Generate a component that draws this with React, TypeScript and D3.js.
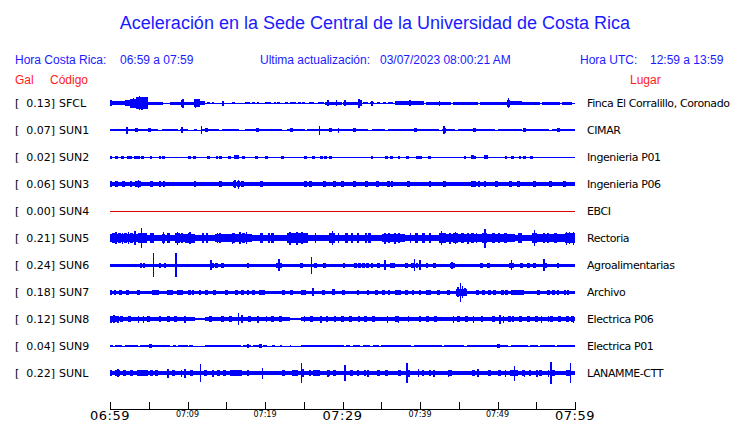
import React from "react";
import * as d3 from "d3";

const W = 740;
const H = 423;

const codes = ["SFCL", "SUN1", "SUN2", "SUN3", "SUN4", "SUN5", "SUN6", "SUN7", "SUN8", "SUN9", "SUNL"];
const peakGal = [0.13, 0.07, 0.02, 0.06, 0.0, 0.21, 0.24, 0.18, 0.12, 0.04, 0.22];
const places = [
  "Finca El Corralillo, Coronado",
  "CIMAR",
  "Ingenieria P01",
  "Ingenieria P06",
  "EBCI",
  "Rectoria",
  "Agroalimentarias",
  "Archivo",
  "Electrica P06",
  "Electrica P01",
  "LANAMME-CTT",
];
const traceColors = ["blue", "blue", "blue", "blue", "#e00000", "blue", "blue", "blue", "blue", "blue", "blue"];

// time axis (minutes after 06:59)
const tickMinutes = [0, 5, 10, 15, 20, 25, 30, 35, 40, 45, 50, 55, 60];
const tickLabels = [
  { m: 0, t: "06:59", big: true },
  { m: 10, t: "07:09", big: false },
  { m: 20, t: "07:19", big: false },
  { m: 30, t: "07:29", big: true },
  { m: 40, t: "07:39", big: false },
  { m: 50, t: "07:49", big: false },
  { m: 60, t: "07:59", big: true },
];

// baseline half amplitude of each trace
const baseAmp = [0.5, 0.5, 0.5, 1.8, 0.5, 2.7, 1.5, 1.5, 0.7, 0.5, 2];

// envelope segments [start min, end min, half amplitude]
const segSFCL = [[0, 1.9, 1.7], [1.9, 2.6, 3], [2.6, 3.4, 4.5], [3.4, 4.2, 6], [4.2, 4.9, 6], [4.9, 6.9, 1.5], [7.7, 9.2, 1.5], [9.2, 9.6, 3.5], [9.6, 10.8, 1.5], [10.8, 11.6, 4], [11.6, 12.3, 2], [27.7, 29.9, 1.5], [30.1, 32, 1.5], [32, 32.5, 3], [32.6, 33.3, 1.2], [33.6, 34.1, 1.2], [34.4, 34.8, 1], [35.2, 35.6, 1], [35.9, 36.5, 1.2], [36.8, 40.5, 1.6], [40.8, 44, 1.5], [44.3, 47.5, 1.5], [47.8, 51.2, 1.5], [51.2, 51.6, 3.5], [51.6, 53.1, 2], [53.1, 55.5, 1.5], [55.8, 58, 1.5], [58.3, 59.6, 1.5]];
const segSUN1 = [[0, 6.2, 1.2], [6.7, 8.8, 1.2], [9.0, 10.1, 1.2], [10.8, 11.2, 1.2], [11.8, 14.0, 1.2], [14.4, 16.6, 1.2], [17.4, 22.2, 1.2], [22.8, 25.2, 1.2], [25.4, 33.3, 1.2], [33.8, 35.5, 1.2], [35.9, 42.4, 1.2], [42.8, 44.5, 1.2], [44.9, 49.7, 1.2], [50.1, 53.1, 1.2], [53.5, 56.6, 1.2], [57.0, 60, 1.2]];
const segSUN2 = [[16.0, 16.6, 1.7], [25.0, 25.4, 1.5], [26.0, 26.4, 1.5], [46.6, 46.95, 1.7], [48.25, 48.75, 1.7]];
const segSUN3: number[][] = [];
const segSUN4: number[][] = [];
const segSUN5 = [[0, 3.66, 4.3], [3.66, 4.73, 5.3], [4.73, 6.67, 3.2], [6.67, 7.1, 4.5], [7.1, 8.4, 3.2], [8.4, 9.0, 5.3], [9.0, 9.7, 3.6], [9.7, 11.0, 4.5], [11.0, 13.5, 3.2], [13.5, 15.5, 3.6], [15.5, 18.3, 4.3], [18.3, 22.8, 3.4], [22.8, 25.6, 4.8], [25.6, 28.2, 3.2], [28.2, 29.0, 5.3], [29.0, 35.1, 3.4], [35.1, 38.1, 4], [38.1, 42.4, 3.2], [42.4, 43.4, 5.3], [43.4, 44.3, 3.6], [44.3, 44.9, 4.8], [44.9, 48.0, 4], [48.0, 48.6, 5.3], [48.6, 52.3, 3.6], [52.3, 54.4, 3.2], [54.4, 55.1, 4.8], [55.1, 58.7, 3.6], [58.7, 60, 5.3]];
const segSUN6: number[][] = [];
const segSUN7 = [[51.7, 53.4, 2.5], [44.7, 46.0, 3.5]];
const segSUN8 = [[0, 11.0, 2], [12.3, 23.2, 2], [23.2, 24.7, 1.3], [24.7, 60, 2]];
const segSUN9 = [[0, 0.4, 1.3], [0.7, 1.6, 1.3], [1.9, 3.6, 1.3], [3.9, 7.8, 1.3], [8.1, 8.5, 1.3], [8.8, 10.0, 1.3], [10.2, 10.75, 1.3], [12.26, 16.9, 1.3], [17.2, 18.2, 1.3], [18.5, 19.35, 1.3], [19.8, 20.2, 1.3], [20.9, 21.3, 1.3], [21.9, 22.2, 1.3], [23.2, 23.4, 1.3], [24.7, 30.2, 1.3], [30.5, 31.0, 1.3], [31.3, 32.3, 1.3], [32.6, 33.6, 1.3], [33.9, 34.7, 1.3], [35.0, 38.9, 1.3], [39.2, 42.8, 1.3], [43.1, 45.7, 1.3], [46.0, 51.4, 1.3], [51.7, 53.9, 1.3], [54.2, 55.2, 1.3], [55.5, 57.4, 1.3], [57.7, 60, 1.3]];
const segSUNL = [[15.5, 17.0, 3.2], [26.2, 26.9, 3], [51.6, 52.7, 3.2], [58.9, 59.3, 3], [0.7, 1.3, 3]];
const segments = [segSFCL, segSUN1, segSUN2, segSUN3, segSUN4, segSUN5, segSUN6, segSUN7, segSUN8, segSUN9, segSUNL];

// short bursts: centre minute (all with the station's burst amplitude)
const blipAmp = [1.2, 1.6, 1.5, 3.2, 0, 5, 2.5, 2.5, 2.6, 1.8, 2.8];
const blipSFCL = [12.7, 13.3, 15.9, 17.6, 17.9, 18.5, 19.1, 20.2, 20.6, 21.3, 21.7, 22.8, 23.4, 23.8, 24.5, 25.0, 25.8, 26.1, 27.0, 27.4];
const blipSUN1 = [2.2, 3.4, 5.1, 12.5, 19.0, 23.4, 28.5, 31.5, 39.4, 47.0, 53.5, 57.9];
const blipSUN2 = [0.13, 0.86, 1.6, 2.37, 2.7, 3.3, 3.66, 4.17, 5.3, 6.45, 6.9, 10.3, 10.9, 12.7, 13.8, 14.3, 15.4, 17.2, 18.9, 20.2, 22.3, 27.3, 27.8, 28.5, 33.8, 35.7, 36.3, 37.3, 38.4, 39.7, 40.1, 41.2, 45.8, 47.0, 51.1, 51.9, 52.9, 53.5, 54.4];
const blipSUN3 = [0.13, 0.86, 1.72, 2.71, 3.44, 3.66, 3.87, 5.38, 6.45, 6.97, 10.97, 14.3, 16.1, 16.6, 17.1, 19.5, 25.2, 25.9, 27.7, 29.0, 30.0, 31.5, 33.1, 34.5, 35.9, 36.4, 38.5, 41.3, 43.2, 46.7, 47.0, 47.6, 48.4, 49.9, 51.7, 52.7, 54.8, 56.8, 58.6];
const blipSUN4: number[] = [];
const blipSUN5 = [0.5, 1.2, 2.0, 2.8, 5.5, 7.5, 10.2, 12.0, 14.2, 16.0, 17.2, 19.5, 21.0, 23.5, 24.3, 25.0, 30.5, 32.0, 33.5, 36.0, 37.3, 39.5, 40.5, 45.5, 46.8, 49.5, 51.0, 53.0, 56.0, 57.5, 59.5];
const blipSUN6 = [4.0, 4.4, 6.45, 7.1, 13.3, 13.7, 14.5, 17.8, 21.6, 22.0, 24.7, 26.5, 27.7, 30.2, 31.7, 32.2, 32.7, 33.2, 33.8, 34.6, 36.3, 36.6, 38.3, 39.0, 39.6, 40.9, 41.9, 44.0, 44.4, 47.9, 48.8, 51.6, 52.0, 53.1, 54.0, 54.8, 56.2, 57.8];
const blipSUN7 = [0.13, 0.65, 1.38, 2.28, 3.66, 5.6, 5.9, 6.2, 7.5, 7.9, 8.8, 9.2, 10.3, 10.7, 11.6, 12.5, 13.5, 15.0, 16.3, 17.1, 17.8, 18.5, 19.4, 19.8, 22.4, 23.4, 24.8, 25.1, 27.5, 30.1, 32.0, 33.3, 34.4, 35.3, 36.0, 37.0, 37.4, 38.3, 39.1, 40.0, 41.0, 41.3, 42.4, 43.7, 47.4, 48.2, 49.0, 49.6, 50.6, 51.2, 55.3, 56.6, 57.2, 57.8, 58.7, 59.1];
const blipSUN8 = [0.3, 0.6, 0.9, 1.5, 2.5, 5.0, 7.5, 8.5, 13, 14.5, 15.5, 18, 21, 22, 26, 28, 30, 31, 33, 34, 37, 40, 41, 42, 45, 46, 48, 49.5, 51.5, 53, 54, 55, 57, 58, 59, 59.6];
const blipSUN9 = [5.2, 17.8, 19.4, 50.1];
const blipSUNL = [0.13, 1.9, 2.8, 3.66, 4.1, 4.4, 4.7, 5.4, 6.0, 8.2, 10.5, 12.3, 14.0, 14.8, 17.8, 22.4, 23.7, 24.1, 25.8, 26.9, 28.2, 29.0, 31.2, 32.0, 32.9, 34.6, 35.7, 37.4, 40.4, 41.3, 43.9, 46.9, 49.0, 50.3, 53.3, 54.2, 55.5, 57.2];
const blips = [blipSFCL, blipSUN1, blipSUN2, blipSUN3, blipSUN4, blipSUN5, blipSUN6, blipSUN7, blipSUN8, blipSUN9, blipSUNL];

// single spikes [minute, half amplitude]
const spkSFCL = [[0.1, 3], [3.0, 5], [3.8, 7.2], [4.1, 6.5], [9.4, 4.5], [11.0, 4.5], [14.6, 2.5], [28.1, 3.2], [29.2, 3], [30.3, 3], [32.1, 4.5], [33.8, 2.5], [38.7, 3.2], [42.5, 2.5], [51.4, 5]];
const spkSUN1 = [[2.2, 3.5], [9.3, 3], [11.8, 4], [27.0, 4.5], [29.5, 2.5], [43.1, 4], [43.3, 2.5]];
const spkSUN2: number[][] = [];
const spkSUN3 = [[3.66, 4], [16.1, 4], [16.6, 4.5]];
const spkSUN4: number[][] = [];
const spkSUN5 = [[4.09, 10], [8.73, 6.5], [16.8, 6], [24.1, 6.5], [28.7, 7], [41.3, 5], [42.8, 7], [44.6, 6], [48.4, 9.5], [54.8, 8], [3.2, 7], [12.5, 5], [59.8, 6.5], [0.8, 6], [1.6, 5.5], [2.4, 6], [5.2, 5], [6.9, 6], [9.3, 5], [10.3, 6], [13.9, 5], [15.8, 5.5], [17.6, 6], [20.5, 5], [23.2, 6.5], [24.8, 6], [26.5, 5], [29.5, 5], [31.2, 5], [33.0, 5], [35.5, 5.5], [36.8, 5.5], [38.8, 5], [43.9, 5.5], [46.2, 5.5], [47.3, 5], [50.2, 5], [52.8, 5], [56.5, 5], [58.9, 6.5], [59.3, 6]];
const spkSUN6 = [[5.6, 12], [8.5, 12], [26.0, 8.5], [56.0, 6], [39.3, 6], [35.5, 5], [21.8, 6], [13.0, 5], [51.8, 5], [40.0, 5], [44.1, 3.5]];
const spkSUN7 = [[26.2, 3.8], [28.7, 3.2], [28.9, 3], [45.2, 9.5], [45.5, 6], [44.9, 5], [45.8, 4]];
const spkSUN8 = [[0.1, 3.5], [0.5, 4], [1.0, 3.5], [3.66, 3.5], [4.3, 3.5], [6.45, 3], [9.7, 3.5], [16.6, 6.3], [17.0, 4], [19.1, 3.5], [20.2, 3], [25.1, 3], [27.2, 3.5], [29.0, 3], [32.1, 3], [35.8, 3.5], [37.2, 3.5], [38.5, 3], [44.3, 3.5], [46.9, 3.5], [50.3, 4.5], [50.8, 3.5], [52.0, 3], [53.1, 3], [55.7, 3.5], [56.6, 3], [59.8, 3.5]];
const spkSUN9: number[][] = [];
const spkSUNL = [[11.7, 8.7], [19.7, 5.5], [24.7, 10], [30.3, 8], [38.3, 10.3], [52.2, 7.5], [56.9, 10.8], [59.4, 10], [1.0, 4], [7.5, 4.5], [9.7, 4.5], [9.2, 3.5], [13.3, 3.5], [24.9, 4], [28.1, 3.5], [33.3, 3.5], [38.6, 3.5], [39.8, 4], [41.8, 3.5], [43.7, 3.5], [47.5, 4], [51.0, 3.5], [53.5, 3.5], [55.1, 3.5], [56.6, 3.5]];
const spikes = [spkSFCL, spkSUN1, spkSUN2, spkSUN3, spkSUN4, spkSUN5, spkSUN6, spkSUN7, spkSUN8, spkSUN9, spkSUNL];

const SANS = "'Liberation Sans', Arial, sans-serif";
const DEJAVU = "'DejaVu Sans', sans-serif";

export default function App() {
  const x = d3.scaleLinear().domain([0, 60]).range([110, 575]);
  const amp = d3.scaleLinear().domain([0, 12]).range([0, 12]);
  const rowY = (i: number) => 103 + i * 27;
  const blipHalf = 0.18;

  return (
    <svg
      width={W}
      height={H}
      style={{ position: "absolute", left: 0, top: 0, background: "white" }}
    >
      <rect x={0} y={0} width={W} height={H} fill="white" />
      <text x={375} y={29} textAnchor="middle" fontFamily={SANS} fontSize={18} fill="#1a1aff">
        Aceleración en la Sede Central de la Universidad de Costa Rica
      </text>

      <g fontFamily={SANS} fontSize={12} fill="#1a1aff">
        <text x={15} y={64}>Hora Costa Rica:</text>
        <text x={120} y={64}>06:59 a 07:59</text>
        <text x={260} y={64}>Ultima actualización:</text>
        <text x={380} y={64}>03/07/2023 08:00:21 AM</text>
        <text x={580} y={64}>Hora UTC:</text>
        <text x={650} y={64}>12:59 a 13:59</text>
      </g>
      <g fontFamily={SANS} fontSize={12} fill="#ff1a1a">
        <text x={15} y={84}>Gal</text>
        <text x={50} y={84}>Código</text>
        <text x={630} y={84}>Lugar</text>
      </g>

      {codes.map((c, i) => {
        const y = rowY(i);
        const col = traceColors[i];
        const b = Math.max(0.5, amp(baseAmp[i]));
        return (
          <g key={c}>
            <g fontFamily={DEJAVU} fontSize={11} fill="black">
              <text x={15} y={y + 4}>[</text>
              <text x={55} y={y + 4} textAnchor="end">{peakGal[i].toFixed(2)}]</text>
              <text x={59} y={y + 4}>{c}</text>
              <text x={587} y={y + 4} letterSpacing={-0.4}>{places[i]}</text>
            </g>
            <g fill={col} shapeRendering="crispEdges">
              <rect x={x(0)} y={y - b} width={x(60) - x(0)} height={2 * b} />
              {segments[i].map((s, k) => (
                <rect key={"s" + k} x={x(s[0])} y={y - amp(s[2])} width={x(s[1]) - x(s[0])} height={2 * amp(s[2])} />
              ))}
              {blips[i].map((m, k) => (
                <rect
                  key={"b" + k}
                  x={x(m - blipHalf)}
                  y={y - amp(blipAmp[i])}
                  width={x(m + blipHalf) - x(m - blipHalf)}
                  height={2 * amp(blipAmp[i])}
                />
              ))}
              {spikes[i].map((s, k) => (
                <rect key={"p" + k} x={x(s[0]) - 0.75} y={y - amp(s[1])} width={1.5} height={2 * amp(s[1])} />
              ))}
            </g>
          </g>
        );
      })}

      <g shapeRendering="crispEdges">
        <line x1={x(0)} x2={x(60)} y1={409.5} y2={409.5} stroke="black" strokeWidth={1} />
        {tickMinutes.map((m) => (
          <line key={m} x1={Math.round(x(m)) + 0.5} x2={Math.round(x(m)) + 0.5} y1={402} y2={409.5} stroke="black" />
        ))}
      </g>
      {tickLabels.map((t) => (
        <text
          key={t.m}
          x={x(t.m)}
          y={t.big ? 420 : 417}
          textAnchor="middle"
          fontFamily={DEJAVU}
          fontSize={t.big ? 13 : 8}
          fill="black"
          letterSpacing={t.big ? 0.5 : 0}
        >
          {t.t}
        </text>
      ))}
    </svg>
  );
}
